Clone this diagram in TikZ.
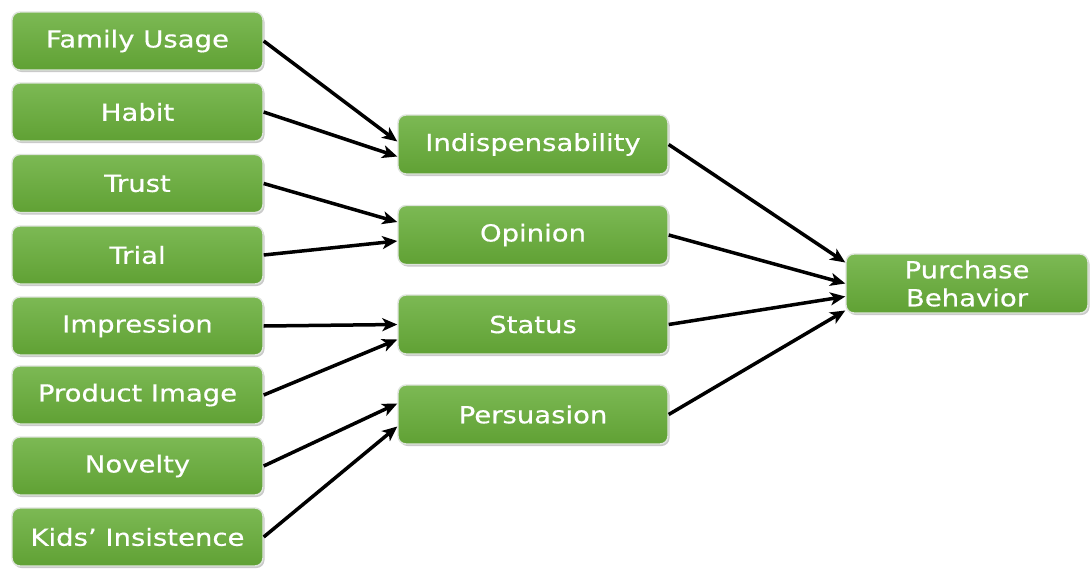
\documentclass[tikz,border=0pt]{standalone}
\usepackage{fontspec}
\setmainfont{DejaVu Sans}
\newfontfamily\boxfont[FakeStretch=1.17,FakeBold=0.5]{DejaVu Sans}
\usetikzlibrary{arrows.meta,calc,shadows}
\definecolor{boxtop}{RGB}{124,185,84}
\definecolor{boxbot}{RGB}{96,161,52}
\definecolor{boxrim}{RGB}{222,228,220}
\tikzset{
  gbox/.style={draw=boxrim, line width=1.4pt, rounded corners=8pt,
    top color=boxtop, bottom color=boxbot, text=white,
    font=\boxfont\fontsize{23.5}{28}\selectfont, align=center, inner sep=0pt,
    drop shadow={shadow xshift=1.5pt, shadow yshift=-2pt, opacity=0.35, fill=black!60}},
  leftbox/.style={gbox, minimum width=251pt, minimum height=58pt},
  midbox/.style={gbox, minimum width=270pt, minimum height=59pt},
  endbox/.style={gbox, minimum width=242pt, minimum height=59pt},
  link/.style={line width=3.5pt, -{Stealth[length=15pt,width=13pt,inset=4pt]}}
}
\begin{document}
\begin{tikzpicture}[x=1pt,y=-1pt]
\useasboundingbox (0,0) rectangle (1090,570);

% input factors
\node[leftbox] (fam)  at (137.5,41)  {Family Usage};
\node[leftbox] (hab)  at (137.5,112) {Habit};
\node[leftbox] (tru)  at (137.5,183.5) {Trust};
\node[leftbox] (tri)  at (137.5,255) {Trial};
\node[leftbox] (imp)  at (137.5,326) {Impression};
\node[leftbox] (pim)  at (137.5,395) {Product Image};
\node[leftbox] (nov)  at (137.5,466) {Novelty};
\node[leftbox] (kid)  at (137.5,537) {Kids’ Insistence};

% intermediate constructs
\node[midbox] (ind) at (533,144.5) {Indispensability};
\node[midbox] (opi) at (533,235)   {Opinion};
\node[midbox] (sta) at (533,324.5) {Status};
\node[midbox] (per) at (533,414.5) {Persuasion};

% outcome
\node[endbox] (pur) at (967,283.5) {Purchase\\Behavior};

% factors to constructs
\draw[link] (fam.east) -- ($(ind.west)+(0,-3)$);
\draw[link] (hab.east) -- ($(ind.west)+(0,12)$);
\draw[link] (tru.east) -- ($(opi.west)+(0,-13)$);
\draw[link] (tri.east) -- ($(opi.west)+(0,6)$);
\draw[link] (imp.east) -- ($(sta.west)+(0,0)$);
\draw[link] (pim.east) -- ($(sta.west)+(0,15)$);
\draw[link] (nov.east) -- ($(per.west)+(0,-11)$);
\draw[link] (kid.east) -- ($(per.west)+(0,12)$);

% constructs to outcome
\draw[link] (ind.east) -- ($(pur.west)+(0,-21)$);
\draw[link] (opi.east) -- ($(pur.west)+(0,0)$);
\draw[link] (sta.east) -- ($(pur.west)+(0,13)$);
\draw[link] (per.east) -- ($(pur.west)+(0,27)$);
\end{tikzpicture}
\end{document}
